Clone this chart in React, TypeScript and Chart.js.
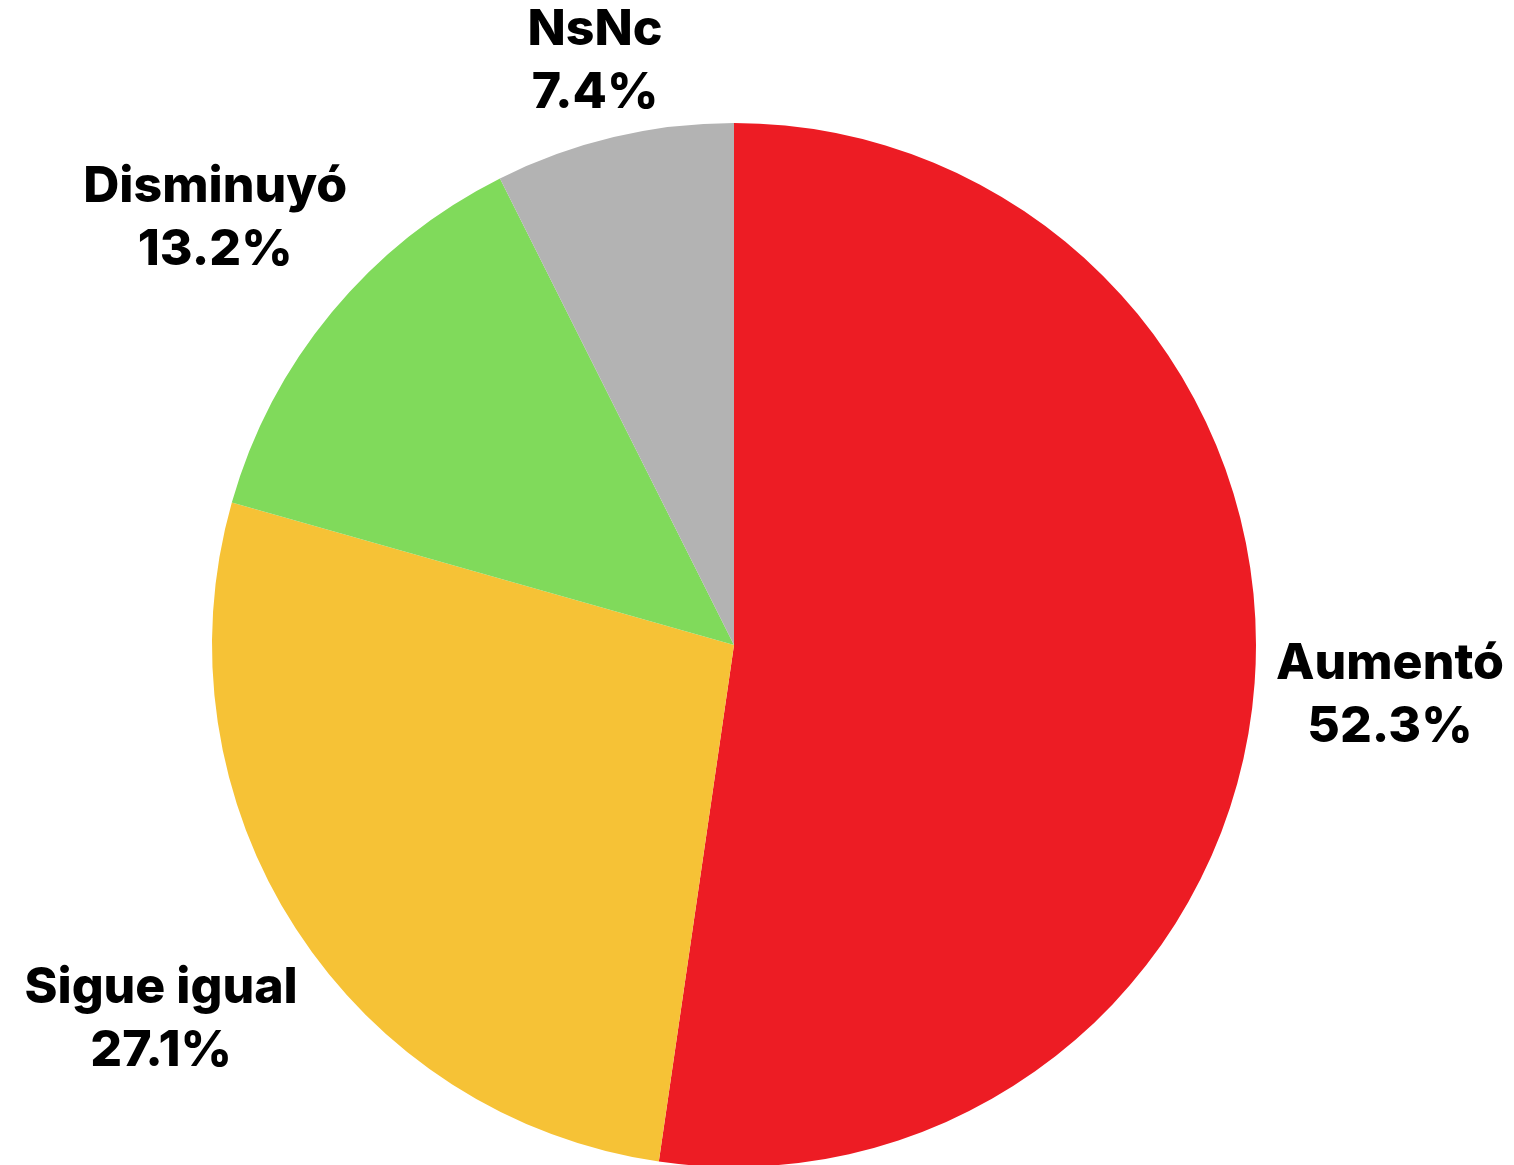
import React, { useEffect, useRef } from "react";
import { Chart, registerables } from "chart.js";

Chart.register(...registerables);

const categories = ["Aumentó", "Sigue igual", "Disminuyó", "NsNc"];
const values = [52.3, 27.1, 13.2, 7.4];
const valueLabels = ["52.3%", "27.1%", "13.2%", "7.4%"];
const colors = ["#ED1C24", "#F6C236", "#80DA5B", "#B3B3B3"];

const FONT_SIZE = 50;
const LINE_H = 63;
const CAP_H = 36;
const GAP = 20;

const labelPlugin = {
  id: "outerLabels",
  afterDraw(chart: any) {
    const ctx = chart.ctx as CanvasRenderingContext2D;
    const meta = chart.getDatasetMeta(0);
    ctx.save();
    ctx.font = `800 ${FONT_SIZE}px Inter, "Open Sans", sans-serif`;
    ctx.fillStyle = "#000";
    ctx.textAlign = "center";
    ctx.textBaseline = "alphabetic";
    meta.data.forEach((arc: any, i: number) => {
      const p = arc.getProps(["x", "y", "startAngle", "endAngle", "outerRadius"], true);
      const mid = (p.startAngle + p.endAngle) / 2;
      const dx = Math.cos(mid);
      const dy = Math.sin(mid);
      const lines = [categories[i], valueLabels[i]];
      const w = Math.max(...lines.map((l) => ctx.measureText(l).width));
      const h = CAP_H + LINE_H;
      const R = p.outerRadius + GAP;
      // find t so that the nearest point of the box to the centre is at distance R
      const nearest = (t: number) => {
        const cx = dx * t;
        const cy = dy * t;
        const qx = Math.max(Math.abs(cx) - w / 2, 0);
        const qy = Math.max(Math.abs(cy) - h / 2, 0);
        return Math.hypot(qx, qy);
      };
      let lo = 0;
      let hi = R + w + h;
      for (let k = 0; k < 60; k++) {
        const m = (lo + hi) / 2;
        if (nearest(m) < R) lo = m;
        else hi = m;
      }
      const cx = p.x + dx * hi;
      const cy = p.y + dy * hi;
      const top = cy - h / 2;
      ctx.fillText(lines[0], cx, top + CAP_H);
      ctx.fillText(lines[1], cx, top + CAP_H + LINE_H);
    });
    ctx.restore();
  },
};

export default function App() {
  const ref = useRef<HTMLCanvasElement | null>(null);
  useEffect(() => {
    if (!ref.current) return;
    const chart = new Chart(ref.current, {
      type: "pie",
      data: {
        labels: categories,
        datasets: [
          {
            data: values,
            backgroundColor: colors,
            borderWidth: 0,
          },
        ],
      },
      options: {
        responsive: false,
        animation: false,
        devicePixelRatio: 1,
        layout: { padding: { top: 123, bottom: 0, left: 0, right: 46 } },
        plugins: {
          legend: { display: false },
          tooltip: { enabled: false },
        },
      },
      plugins: [labelPlugin],
    });
    return () => chart.destroy();
  }, []);
  return (
    <div
      style={{
        position: "fixed",
        left: 0,
        top: 0,
        width: 1514,
        height: 1165,
        overflow: "hidden",
        background: "#fff",
      }}
    >
      <canvas ref={ref} width={1514} height={1167} style={{ display: "block" }} />
    </div>
  );
}
